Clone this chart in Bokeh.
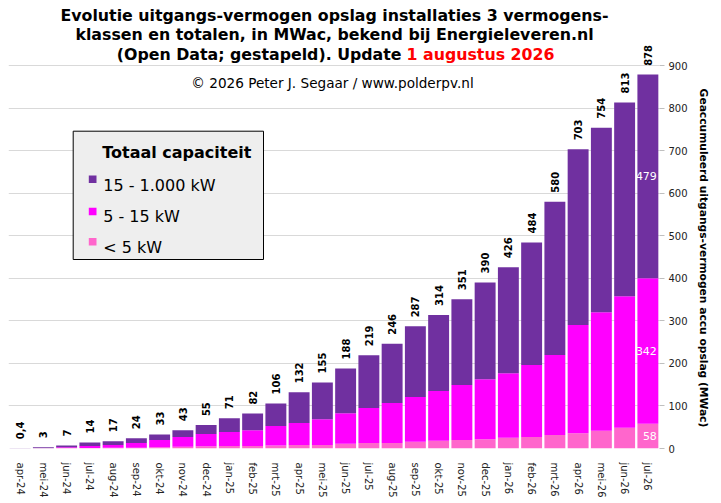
import numpy as np
from bokeh.plotting import figure
from bokeh.models import ColumnDataSource, Range1d, FixedTicker, LabelSet, Label
from bokeh.core.properties import value
from bokeh.embed import file_html
from bokeh.resources import INLINE

# ---------------- data ----------------
months = ["apr-24", "mei-24", "jun-24", "jul-24", "aug-24", "sep-24", "okt-24", "nov-24",
          "dec-24", "jan-25", "feb-25", "mrt-25", "apr-25", "mei-25", "jun-25", "jul-25",
          "aug-25", "sep-25", "okt-25", "nov-25", "dec-25", "jan-26", "feb-26", "mrt-26",
          "apr-26", "mei-26", "jun-26", "jul-26"]
small_kw = [0.05, 0.3, 1, 1, 2, 2, 3, 4, 5, 6, 6, 7, 8, 8, 11, 13, 13, 16, 18, 20, 22, 25,
            27, 32, 36, 42, 49, 58]                      # < 5 kW
medium_kw = [0.1, 0.5, 2, 5, 6, 11, 17, 23, 29, 33, 37, 46, 52, 61, 72, 82, 94, 105, 117,
             129, 141, 152, 169, 188, 254, 278, 309, 342]  # 5 - 15 kW
large_kw = [0.25, 2.2, 4, 8, 9, 11, 13, 16, 21, 32, 39, 53, 72, 86, 105, 124, 139, 166, 179,
            202, 227, 249, 288, 360, 413, 434, 455, 479]   # 15 - 1.000 kW
totals = [0.4, 3, 7, 14, 17, 24, 33, 43, 55, 71, 82, 106, 132, 155, 188, 219, 246, 287, 314,
          351, 390, 426, 484, 580, 703, 754, 813, 878]
total_labels = ["0,4", "3", "7", "14", "17", "24", "33", "43", "55", "71", "82", "106", "132",
                "155", "188", "219", "246", "287", "314", "351", "390", "426", "484", "580",
                "703", "754", "813", "878"]
y_ticks = [0, 100, 200, 300, 400, 500, 600, 700, 800, 900]
legend_labels = ["15 - 1.000 kW", "5 - 15 kW", "< 5 kW"]
legend_title = "Totaal capaciteit"
title_lines = ["Evolutie uitgangs-vermogen opslag installaties 3 vermogens-",
               "klassen en totalen, in MWac, bekend bij Energieleveren.nl",
               "(Open Data; gestapeld). Update"]
title_date = "1 augustus 2026"
copyright_text = "\u00a9 2026 Peter J. Segaar / www.polderpv.nl"
y_label = "Geaccumuleerd uitgangs-vermogen accu opslag (MWac)"

C_LARGE, C_MED, C_SMALL = "#7030A0", "#FF00FF", "#FF66CC"
FONT = "DejaVu Sans"

idx = list(range(len(months)))
src = ColumnDataSource(dict(i=idx, month=months, small=small_kw, medium=medium_kw,
                            large=large_kw, total=totals, total_label=total_labels))

# layout: frame spans x 8..659, y 0..448 (900 gridline at y=65)
FL, FW, FH = 8, 651, 448
Y_TOP = 900 * FH / 383.0
p = figure(x_range=Range1d(-0.5, len(months) - 0.5), y_range=Range1d(0, Y_TOP),
           frame_width=FW, frame_height=FH, output_backend="svg", toolbar_location=None,
           y_axis_location="right", min_border_left=FL, min_border_top=0,
           min_border_bottom=55, min_border_right=62)
p.extra_x_ranges = {"px": Range1d(FL, FL + FW)}
p.extra_y_ranges = {"px": Range1d(FH, 0)}
p.outline_line_color = None
p.background_fill_color = "white"

p.vbar_stack(["small", "medium", "large"], x="i", width=0.9, source=src,
             fill_color=[C_SMALL, C_MED, C_LARGE], line_color=None)

# axes / grid
p.xgrid.visible = False
p.ygrid.ticker = FixedTicker(ticks=y_ticks)
p.ygrid.grid_line_color = "#D9D9D9"
p.yaxis.ticker = FixedTicker(ticks=y_ticks)
p.yaxis.axis_line_color = None
p.yaxis.major_tick_line_color = "#BFBFBF"
p.yaxis.major_tick_in = 0
p.yaxis.major_tick_out = 5
p.yaxis.minor_tick_line_color = None
p.yaxis.major_label_standoff = 4
p.yaxis.major_label_text_font = FONT
p.yaxis.major_label_text_font_size = "10px"
p.yaxis.major_label_text_color = "#222222"
# leading no-break spaces shift the centred label down to the middle of 0..900
p.yaxis.axis_label = "\u00a0" * 18 + y_label
p.yaxis.axis_label_text_font = FONT
p.yaxis.axis_label_text_font_style = "bold"
p.yaxis.axis_label_text_font_size = "10.7px"
p.yaxis.axis_label_text_color = "black"
p.yaxis.axis_label_standoff = 6

p.xaxis.ticker = FixedTicker(ticks=idx)
p.xaxis.major_label_overrides = {i: m for i, m in zip(idx, months)}
p.xaxis.axis_line_color = None
p.xaxis.major_tick_line_color = None
p.xaxis.minor_tick_line_color = None
p.xaxis.major_label_orientation = "vertical"
p.xaxis.major_label_standoff = 8
p.xaxis.major_label_text_font = FONT
p.xaxis.major_label_text_font_size = "10px"
p.xaxis.major_label_text_color = "#222222"

# total labels above bars (rotated, reading upwards), one Label per bar
for xi, yi, t in zip(idx, totals, total_labels):
    p.add_layout(Label(x=xi, y=yi, text=t, angle=np.pi / 2, text_align="left",
                       text_baseline="middle", y_offset=9, text_font=FONT,
                       text_font_style="bold", text_font_size="10px", text_color="black"))

# segment labels inside the last bar
s_last, m_last, l_last = small_kw[-1], medium_kw[-1], large_kw[-1]
seg_src = ColumnDataSource(dict(
    i=[idx[-1]] * 3,
    y=[s_last / 2, s_last + m_last / 2, s_last + m_last + l_last / 2],
    txt=[str(s_last), str(m_last), str(l_last)]))
p.add_layout(LabelSet(x="i", y="y", text="txt", source=seg_src, x_offset=9,
                      text_align="right", text_baseline="middle", text_font=value(FONT),
                      text_font_size="11px", text_color="white"))

# texts placed in page-pixel coordinates (origin top-left)
def lab(x, y, text, size, bold=False, color="black", align="center"):
    p.add_layout(Label(x=x, y=y, text=text, x_range_name="px", y_range_name="px",
                       text_font=FONT, text_font_size=size,
                       text_font_style="bold" if bold else "normal",
                       text_color=color, text_align=align, text_baseline="alphabetic"))

lab(334, 14.5, title_lines[0], "15.8px", bold=True)
lab(334, 34, title_lines[1], "15.8px", bold=True)
lab(401, 53.5, title_lines[2], "15.8px", bold=True, align="right")
lab(406, 53.5, title_date, "15.8px", bold=True, color="#FF0000", align="left")
lab(332, 82, copyright_text, "13.6px")

# legend box
p.quad(left=[72.7], right=[263], top=[130.7], bottom=[259], x_range_name="px",
       y_range_name="px", fill_color="#EEEEEE", line_color="black", line_width=1)
p.quad(left=[88.3] * 3, right=[96] * 3, top=[175, 207.3, 237.5], bottom=[182.5, 214.8, 245],
       x_range_name="px", y_range_name="px", fill_color=[C_LARGE, C_MED, C_SMALL],
       line_color=None)
p.text(x=[102.7] * 3, y=[184.5, 216, 247], text=legend_labels, x_range_name="px",
       y_range_name="px", text_font=value(FONT), text_font_size="16px",
       text_align="left", text_baseline="alphabetic", text_color="black")
lab(101.7, 152, legend_title, "16px", bold=True, align="left")

open("out.html", "w").write(file_html(p, INLINE))
